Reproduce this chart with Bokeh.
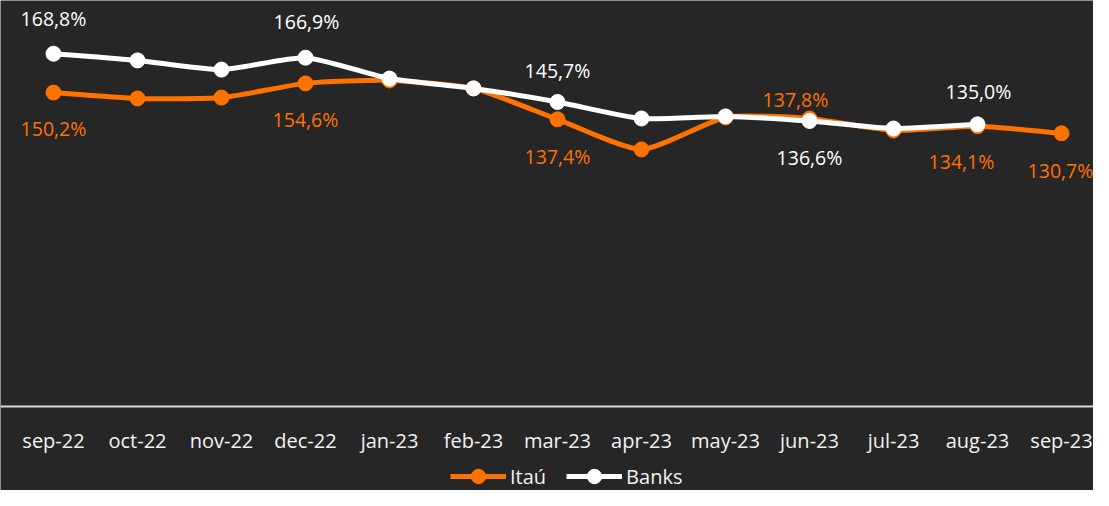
import math
from bokeh.plotting import figure
from bokeh.models import Range1d, LinearAxis, FixedTicker
from bokeh.embed import file_html
from bokeh.resources import INLINE
from bokeh.core.properties import value

months = ["sep-22", "oct-22", "nov-22", "dec-22", "jan-23", "feb-23", "mar-23",
          "apr-23", "may-23", "jun-23", "jul-23", "aug-23", "sep-23"]
itau = [150.2, 147.4, 147.8, 154.6, 156.0, 152.2, 137.4, 123.0, 138.3, 137.8, 132.1, 134.1, 130.7]
banks = [168.8, 165.6, 161.2, 166.9, 156.9, 152.2, 145.7, 137.8, 138.8, 136.6, 133.0, 135.0]

itau_label_idx = [0, 3, 6, 9, 11, 12]
banks_label_idx = [0, 3, 6, 9, 11]

# label placement (screen px offsets)
itau_label_dx = [0, 0, 0, -14, -16, -1]
itau_label_dy = [36, 36, 37, -19, 35, 37]
banks_label_dx = [0, 1, 0, 0, 1]
banks_label_dy = [-35, -36, -31, 36, -33]

ORANGE = "#FF7200"
WHITE = "#FFFFFF"
BG = "#262626"
FONT = "Open Sans"

W, H = 1093, 490
px_per_x = 84.0
x0_px = 53.0
px_per_y = 2.09
zero_px_from_top = 406.0

p = figure(width=W, height=H, output_backend="svg", toolbar_location=None,
           x_axis_location=None, y_axis_location=None, min_border=0,
           background_fill_color=BG, border_fill_color=BG, outline_line_color=None,
           x_range=Range1d(-x0_px / px_per_x, (W - x0_px) / px_per_x),
           y_range=Range1d(-(H - zero_px_from_top) / px_per_y, zero_px_from_top / px_per_y))
p.grid.visible = False


def smooth_segments(ys, t=0.1):
    xs = list(range(len(ys)))
    n = len(ys)
    seg = dict(x0=[], y0=[], x1=[], y1=[], cx0=[], cy0=[], cx1=[], cy1=[])
    for i in range(n - 1):
        pm = i - 1 if i > 0 else 0
        pp = i + 2 if i + 2 < n else n - 1
        seg["x0"].append(xs[i]); seg["y0"].append(ys[i])
        seg["x1"].append(xs[i + 1]); seg["y1"].append(ys[i + 1])
        seg["cx0"].append(xs[i] + (xs[i + 1] - xs[pm]) * t)
        seg["cy0"].append(ys[i] + (ys[i + 1] - ys[pm]) * t)
        seg["cx1"].append(xs[i + 1] - (xs[pp] - xs[i]) * t)
        seg["cy1"].append(ys[i + 1] - (ys[pp] - ys[i]) * t)
    return seg


for ys, col, name in [(itau, ORANGE, "Itaú"), (banks, WHITE, "Banks")]:
    s = smooth_segments(ys)
    p.bezier(x0=s["x0"], y0=s["y0"], x1=s["x1"], y1=s["y1"],
             cx0=s["cx0"], cy0=s["cy0"], cx1=s["cx1"], cy1=s["cy1"],
             line_color=col, line_width=5, line_cap="round")
    # legend-only line (no visible data)
    p.line(x=[math.nan], y=[math.nan], line_color=col, line_width=5, legend_label=name)
    p.scatter(x=list(range(len(ys))), y=ys, size=15, fill_color=col, line_color=col,
              legend_label=name)


def fmt(v):
    return f"{v:.1f}".replace(".", ",") + "%"


for idx, dxs, dys, ys, col in [(itau_label_idx, itau_label_dx, itau_label_dy, itau, ORANGE),
                               (banks_label_idx, banks_label_dx, banks_label_dy, banks, WHITE)]:
    p.text(x=idx, y=[ys[i] for i in idx], text=[fmt(ys[i]) for i in idx],
           x_offset=dxs, y_offset=dys, text_color=col, text_font=value(FONT),
           text_font_size="19.5px", text_align="center", text_baseline="middle")

xaxis = LinearAxis(fixed_location=0, ticker=FixedTicker(ticks=list(range(len(months)))),
                   major_label_overrides={i: m for i, m in enumerate(months)})
xaxis.axis_line_color = "#D9D9D9"
xaxis.axis_line_width = 2
xaxis.major_tick_line_color = None
xaxis.minor_tick_line_color = None
xaxis.major_tick_out = 0
xaxis.major_tick_in = 0
xaxis.major_label_standoff = 20
xaxis.major_label_text_color = "#F2F2F2"
xaxis.major_label_text_font = FONT
xaxis.major_label_text_font_size = "20px"
p.add_layout(xaxis, "below")

lg = p.legend[0]
lg.location = (450, -4)
lg.orientation = "horizontal"
lg.background_fill_alpha = 0
lg.border_line_color = None
lg.padding = 0
lg.margin = 0
lg.spacing = 20
lg.glyph_width = 56
lg.glyph_height = 36
lg.label_height = 20
lg.label_standoff = 4
lg.label_text_color = "#F2F2F2"
lg.label_text_font = FONT
lg.label_text_font_size = "20px"

open("out.html", "w").write(file_html(p, INLINE))
